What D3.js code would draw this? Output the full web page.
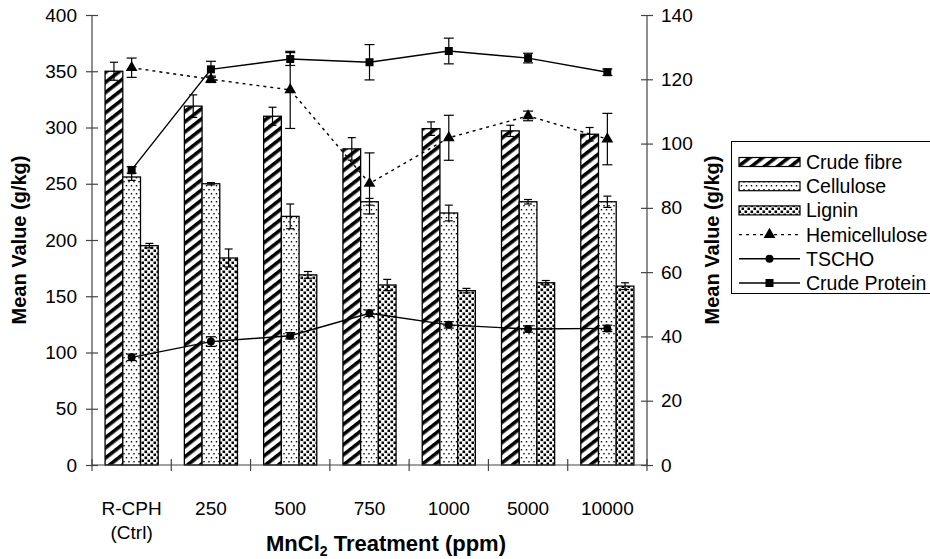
<!DOCTYPE html>
<html>
<head>
<meta charset="utf-8">
<script src="https://cdn.jsdelivr.net/npm/d3@7"></script>
<style>
  body { margin: 0; background: #fff; }
  text { font-family: "Liberation Sans", Arial, sans-serif; fill: #000; }
</style>
</head>
<body>
<script>
// Treatment groups (x axis)
const categories = ["R-CPH (Ctrl)", "250", "500", "750", "1000", "5000", "10000"];

// Bar series, left axis (g/kg) with standard errors
const crudeFibre    = [350, 319, 310, 281, 299, 297, 294];
const crudeFibreErr = [8, 10, 8, 10, 6, 5, 6];
const cellulose     = [256, 250, 221, 234, 224, 234, 234];
const celluloseErr  = [3, 1, 11, 3, 7, 2, 5];
const lignin        = [195, 184, 169, 160, 155, 162, 159];
const ligninErr     = [2, 8, 3, 5, 2, 2, 3];

// Line series, right axis (g/kg) with standard errors
const hemicellulose    = [123.6, 120, 116.7, 87.6, 101.8, 108.6, 101.4];
const hemicelluloseErr = [3, 1, 12, 9.5, 7, 1.5, 8];
const tscho            = [33.5, 38.4, 40.2, 47.2, 43.6, 42.3, 42.5];
const tschoErr         = [1, 1.5, 1, 1, 1, 1, 1];
const crudeProtein     = [91.8, 123.1, 126.3, 125.3, 128.8, 126.6, 122.2];
const crudeProteinErr  = [1, 2.5, 2, 5.5, 4, 1.5, 1];

// Axis ticks
const leftTicks  = [0, 50, 100, 150, 200, 250, 300, 350, 400];
const rightTicks = [0, 20, 40, 60, 80, 100, 120, 140];

const W = 930, H = 559;
const plot = { left: 92, right: 647, top: 15, bottom: 465 };
const tickFont = "19px";

const svg = d3.select("body").append("svg").attr("width", W).attr("height", H);

// Fill patterns for the bar series
const defs = svg.append("defs");
const pStripe = defs.append("pattern").attr("id", "pat-fibre")
  .attr("patternUnits", "userSpaceOnUse").attr("width", 8).attr("height", 8)
  .attr("patternTransform", "rotate(52)");
pStripe.append("rect").attr("width", 8).attr("height", 8).attr("fill", "#fff");
pStripe.append("rect").attr("width", 3.6).attr("height", 8).attr("fill", "#000");

const pDots = defs.append("pattern").attr("id", "pat-cellulose")
  .attr("patternUnits", "userSpaceOnUse").attr("width", 5).attr("height", 8);
pDots.append("rect").attr("width", 5).attr("height", 8).attr("fill", "#fff");
pDots.append("rect").attr("x", 0.8).attr("y", 1).attr("width", 1.4).attr("height", 1.4).attr("fill", "#000");
pDots.append("rect").attr("x", 3.3).attr("y", 5).attr("width", 1.4).attr("height", 1.4).attr("fill", "#000");

const pChk = defs.append("pattern").attr("id", "pat-lignin")
  .attr("patternUnits", "userSpaceOnUse").attr("width", 6).attr("height", 6);
pChk.append("rect").attr("width", 6).attr("height", 6).attr("fill", "#fff");
pChk.append("rect").attr("x", 0.5).attr("y", 0.5).attr("width", 2.6).attr("height", 2.6).attr("fill", "#000");
pChk.append("rect").attr("x", 3.5).attr("y", 3.5).attr("width", 2.6).attr("height", 2.6).attr("fill", "#000");

// Scales
const x0 = d3.scaleBand().domain(categories).range([plot.left, plot.right]).padding(0);
const barKeys = ["fibre", "cellulose", "lignin"];
const bw = x0.bandwidth();
const x1 = d3.scaleBand().domain(barKeys).range([bw * 0.165, bw * 0.835]).padding(0);
const yL = d3.scaleLinear().domain([0, 400]).range([plot.bottom, plot.top]);
const yR = d3.scaleLinear().domain([0, 140]).range([plot.bottom, plot.top]);

const barSeries = [
  { key: "fibre", label: "Crude fibre", values: crudeFibre, err: crudeFibreErr },
  { key: "cellulose", label: "Cellulose", values: cellulose, err: celluloseErr },
  { key: "lignin", label: "Lignin", values: lignin, err: ligninErr }
];

// Bars
barSeries.forEach(s => {
  const g = svg.append("g");
  g.selectAll("rect").data(categories).join("rect")
    .attr("x", c => x0(c) + x1(s.key))
    .attr("y", (c, i) => yL(s.values[i]))
    .attr("width", x1.bandwidth())
    .attr("height", (c, i) => yL(0) - yL(s.values[i]))
    .attr("fill", `url(#pat-${s.key})`)
    .attr("stroke", "#000").attr("stroke-width", 1.3);
  // error bars
  categories.forEach((c, i) => {
    const cx = x0(c) + x1(s.key) + x1.bandwidth() / 2;
    const v = s.values[i], e = s.err[i];
    const eg = g.append("g").attr("stroke", "#000").attr("stroke-width", 1.2);
    eg.append("line").attr("x1", cx).attr("x2", cx).attr("y1", yL(v + e)).attr("y2", yL(v - e));
    [v + e, v - e].forEach(t => eg.append("line")
      .attr("x1", cx - 4).attr("x2", cx + 4).attr("y1", yL(t)).attr("y2", yL(t)));
  });
});

// Axes
const axisColor = "#444";
const gL = svg.append("g").attr("transform", `translate(${plot.left},0)`)
  .call(d3.axisLeft(yL).tickValues(leftTicks).tickSize(6).tickPadding(9));
gL.selectAll(".tick line").attr("x1", 6);
const gR = svg.append("g").attr("transform", `translate(${plot.right},0)`)
  .call(d3.axisRight(yR).tickValues(rightTicks).tickSize(6).tickPadding(8));
gR.selectAll(".tick line").attr("x1", -6);
[gL, gR].forEach(g => {
  g.select(".domain").remove();
  g.selectAll(".tick line").attr("stroke", axisColor).attr("stroke-width", 1.2);
  g.selectAll(".tick text").style("font-size", tickFont)
    .style("font-family", "Liberation Sans, Arial, sans-serif").attr("fill", "#000");
});
svg.append("line").attr("x1", plot.left).attr("x2", plot.left).attr("y1", plot.top).attr("y2", plot.bottom)
  .attr("stroke", axisColor).attr("stroke-width", 1.2);
svg.append("line").attr("x1", plot.right).attr("x2", plot.right).attr("y1", plot.top).attr("y2", plot.bottom)
  .attr("stroke", axisColor).attr("stroke-width", 1.2);

// x axis: baseline, boundary ticks, category labels
const gX = svg.append("g");
gX.append("line").attr("x1", plot.left).attr("x2", plot.right).attr("y1", plot.bottom).attr("y2", plot.bottom)
  .attr("stroke", axisColor).attr("stroke-width", 1.2);
const bounds = categories.map(c => x0(c)).concat([x0(categories[categories.length - 1]) + bw]);
gX.selectAll("line.tk").data(bounds).join("line").attr("class", "tk")
  .attr("x1", d => d).attr("x2", d => d).attr("y1", plot.bottom - 6).attr("y2", plot.bottom + 6)
  .attr("stroke", axisColor).attr("stroke-width", 1.2);
categories.forEach(c => {
  const parts = c.split(" ");
  const t = gX.append("text").attr("text-anchor", "middle").style("font-size", tickFont)
    .attr("x", x0(c) + bw / 2).attr("y", 515);
  parts.forEach((p, k) => t.append("tspan").attr("x", x0(c) + bw / 2).attr("dy", k === 0 ? 0 : 24).text(p));
});

// Axis titles
const xt = svg.append("text").attr("x", 386).attr("y", 551)
  .attr("text-anchor", "middle").style("font-size", "22px").style("font-weight", "bold");
xt.append("tspan").text("MnCl");
xt.append("tspan").attr("dy", 5).style("font-size", "14px").text("2");
xt.append("tspan").attr("dy", -5).text(" Treatment (ppm)");

svg.append("text").attr("transform", `translate(26,240) rotate(-90)`)
  .attr("text-anchor", "middle").style("font-size", "20px").style("font-weight", "bold")
  .text("Mean Value (g/kg)");
svg.append("text").attr("transform", `translate(719,240) rotate(-90)`)
  .attr("text-anchor", "middle").style("font-size", "20px").style("font-weight", "bold")
  .text("Mean Value (g/kg)");

// Line series on the right axis
const lineSeries = [
  { label: "Hemicellulose", values: hemicellulose, err: hemicelluloseErr, dash: "3,4", marker: "triangle" },
  { label: "TSCHO", values: tscho, err: tschoErr, dash: null, marker: "circle" },
  { label: "Crude Protein", values: crudeProtein, err: crudeProteinErr, dash: null, marker: "square" }
];
const cxOf = c => x0(c) + bw / 2;
const symbols = {
  triangle: d3.symbol().type(d3.symbolTriangle).size(60),
  circle: d3.symbol().type(d3.symbolCircle).size(50),
  square: d3.symbol().type(d3.symbolSquare).size(64)
};

lineSeries.forEach(s => {
  const g = svg.append("g");
  const line = d3.line().x((d, i) => cxOf(categories[i])).y(d => yR(d));
  g.append("path").datum(s.values).attr("d", line).attr("fill", "none")
    .attr("stroke", "#000").attr("stroke-width", 1.4)
    .attr("stroke-dasharray", s.dash);
  categories.forEach((c, i) => {
    const cx = cxOf(c), v = s.values[i], e = s.err[i];
    const eg = g.append("g").attr("stroke", "#000").attr("stroke-width", 1.2);
    eg.append("line").attr("x1", cx).attr("x2", cx).attr("y1", yR(v + e)).attr("y2", yR(v - e));
    [v + e, v - e].forEach(t => eg.append("line")
      .attr("x1", cx - 5).attr("x2", cx + 5).attr("y1", yR(t)).attr("y2", yR(t)));
  });
  g.selectAll("path.mk").data(s.values).join("path").attr("class", "mk")
    .attr("d", symbols[s.marker])
    .attr("transform", (d, i) => `translate(${cxOf(categories[i])},${yR(d)})`)
    .attr("fill", "#000");
});

// Legend
const lg = svg.append("g");
lg.append("rect").attr("x", 731.5).attr("y", 141.5).attr("width", 220).attr("height", 152)
  .attr("fill", "#fff").attr("stroke", "#000").attr("stroke-width", 1);
const rowY = i => 162 + i * 24.2;
barSeries.forEach((s, i) => {
  lg.append("rect").attr("x", 739).attr("y", rowY(i) - 4.5).attr("width", 61).attr("height", 9)
    .attr("fill", `url(#pat-${s.key})`).attr("stroke", "#000").attr("stroke-width", 1.2);
  lg.append("text").attr("x", 806).attr("y", rowY(i) + 7).style("font-size", "19.5px").text(s.label);
});
lineSeries.forEach((s, j) => {
  const i = j + 3;
  lg.append("line").attr("x1", 739).attr("x2", 800).attr("y1", rowY(i)).attr("y2", rowY(i))
    .attr("stroke", "#000").attr("stroke-width", 1.4).attr("stroke-dasharray", s.dash);
  lg.append("path").attr("d", symbols[s.marker]).attr("transform", `translate(769.5,${rowY(i)})`).attr("fill", "#000");
  lg.append("text").attr("x", 806).attr("y", rowY(i) + 7).style("font-size", "19.5px").text(s.label);
});
</script>
</body>
</html>
